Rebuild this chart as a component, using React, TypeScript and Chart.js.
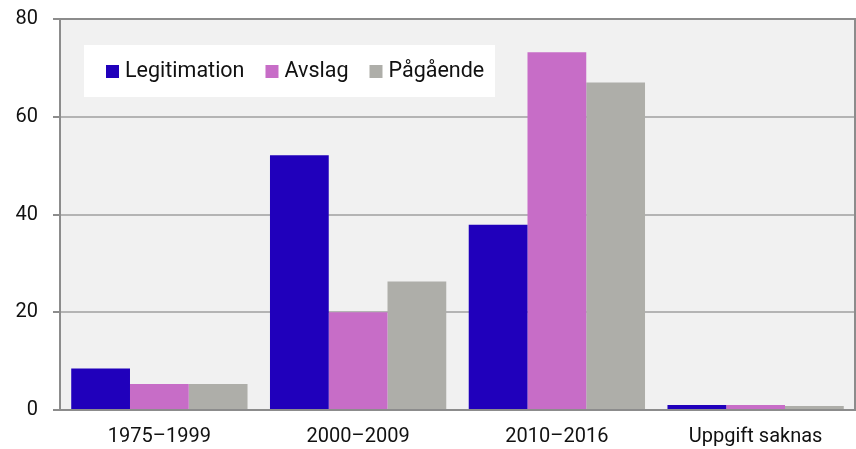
import React, { useEffect, useRef } from "react";
import { Chart, registerables } from "chart.js";

Chart.register(...registerables);

const categories = ["1975–1999", "2000–2009", "2010–2016", "Uppgift saknas"];
const legitimation = [8.5, 52.1, 37.9, 1.0];
const avslag = [5.3, 20.0, 73.2, 1.0];
const pagaende = [5.3, 26.3, 67.0, 0.8];
const yTicks = [0, 20, 40, 60, 80];

const FONT = "Roboto, 'Noto Sans', sans-serif";
const TEXT = "#111111";

const frameBg = {
  id: "frameBg",
  beforeDraw(chart: any) {
    const { ctx, chartArea: a } = chart;
    ctx.save();
    ctx.fillStyle = "#f1f1f1";
    ctx.fillRect(a.left, a.top, a.right - a.left, a.bottom - a.top);
    ctx.restore();
  },
  afterDraw(chart: any) {
    const { ctx, chartArea: a } = chart;
    ctx.save();
    ctx.strokeStyle = "#8c8c8c";
    ctx.lineWidth = 2;
    ctx.beginPath();
    ctx.moveTo(a.left, a.top);
    ctx.lineTo(a.right, a.top);
    ctx.lineTo(a.right, a.bottom);
    ctx.stroke();
    // legend box
    const bx = a.left + 24;
    const by = a.top + 26;
    ctx.fillStyle = "#ffffff";
    ctx.fillRect(bx, by, 411, 52);
    ctx.font = `21.5px ${FONT}`;
    ctx.textBaseline = "middle";
    ctx.textAlign = "left";
    let x = bx + 22;
    const cy = by + 26.5;
    chart.data.datasets.forEach((ds: any) => {
      ctx.fillStyle = ds.backgroundColor;
      ctx.fillRect(x, cy - 6.5, 13, 13);
      ctx.fillStyle = TEXT;
      ctx.fillText(ds.label, x + 19, cy);
      x += 19 + ctx.measureText(ds.label).width + 21;
    });
    ctx.restore();
  },
};

export default function App() {
  const ref = useRef<HTMLCanvasElement>(null);
  useEffect(() => {
    if (!ref.current) return;
    const chart = new Chart(ref.current, {
      type: "bar",
      data: {
        labels: categories,
        datasets: [
          { label: "Legitimation", data: legitimation, backgroundColor: "#2000bb" },
          { label: "Avslag", data: avslag, backgroundColor: "#c76dc7" },
          { label: "Pågående", data: pagaende, backgroundColor: "#aeaea9" },
        ],
      },
      options: {
        responsive: false,
        animation: false,
        layout: { padding: { top: 19, right: 1, left: 0, bottom: 0 } },
        datasets: { bar: { barPercentage: 1, categoryPercentage: 0.887 } },
        plugins: { legend: { display: false }, tooltip: { enabled: false } },
        scales: {
          x: {
            grid: { display: false, drawTicks: false },
            border: { color: "#8c8c8c", width: 2 },
            ticks: { color: TEXT, font: { family: FONT, size: 20 }, padding: 15, maxRotation: 0 },
            afterFit: (s: any) => { s.height = 39; s.paddingLeft = 0; s.paddingRight = 0; },
          },
          y: {
            min: 0,
            max: 80,
            afterBuildTicks: (s: any) => { s.ticks = yTicks.map((v) => ({ value: v })); },
            grid: { color: "#b4b4b4", lineWidth: 2, tickLength: 7, tickColor: "#8c8c8c" },
            border: { color: "#8c8c8c", width: 2 },
            ticks: { color: TEXT, font: { family: FONT, size: 20 }, padding: 15 },
            afterFit: (s: any) => { s.width = 60; s.paddingTop = 0; s.paddingBottom = 0; },
          },
        },
      },
      plugins: [frameBg],
    });
    return () => chart.destroy();
  }, []);
  return (
    <div style={{ position: "absolute", left: 0, top: 0, width: 856, height: 449, background: "#fff" }}>
      <canvas ref={ref} width={856} height={449} />
    </div>
  );
}
